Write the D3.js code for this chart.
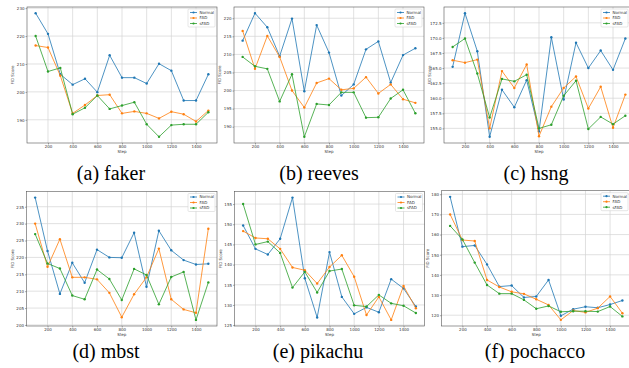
<!DOCTYPE html>
<html>
<head>
<meta charset="utf-8">
<script src="https://cdn.jsdelivr.net/npm/d3@7/dist/d3.min.js"></script>
<style>
	body { margin: 0; background: #fff; }
	svg { display: block; }
	.tick text { font-family: "DejaVu Sans", sans-serif; fill: #333; }
	.caption { font-family: "Liberation Serif", "Times New Roman", serif; font-size: 20px; fill: #000; }
	.small { font-family: "DejaVu Sans", sans-serif; font-size: 4px; fill: #333; }
</style>
</head>
<body>
<svg id="chart" width="629" height="368"></svg>
<script>

// training steps (x) shared by every panel
var steps = [100, 200, 300, 400, 500, 600, 700, 800, 900, 1000, 1100, 1200, 1300, 1400, 1500];
var stepTicks = [200, 400, 600, 800, 1000, 1200, 1400];
var seriesNames = ["Normal", "FAD", "sFAD"];
var seriesColors = ["#1f77b4", "#ff7f0e", "#2ca02c"];

// (a) faker
var fakerNormal = [228.2, 220.8, 206.3, 202.6, 204.7, 199.9, 213.1, 205.1, 205.1, 203.0, 210.1, 207.6, 196.9, 196.9, 206.3];
var fakerFAD    = [216.6, 215.9, 205.8, 192.3, 195.3, 198.7, 199.0, 192.3, 193.0, 192.3, 190.5, 192.9, 192.0, 189.4, 193.3];
var fakerSFAD   = [220.0, 207.3, 208.6, 192.0, 194.3, 198.7, 193.9, 195.1, 196.3, 188.4, 183.9, 188.1, 188.4, 188.4, 192.7];
var fakerTicks  = [190, 200, 210, 220, 230];

// (b) reeves
var reevesNormal = [213.8, 221.4, 217.5, 209.5, 219.9, 199.8, 218.1, 210.5, 198.6, 201.7, 211.4, 213.6, 202.2, 209.8, 211.7];
var reevesFAD    = [216.5, 206.0, 215.1, 209.3, 200.0, 195.3, 202.1, 203.3, 200.2, 200.6, 203.7, 199.2, 201.7, 197.6, 196.6];
var reevesSFAD   = [209.3, 206.7, 206.0, 197.0, 204.5, 187.2, 196.3, 196.0, 199.5, 199.5, 192.5, 192.6, 197.8, 200.2, 193.7];
var reevesTicks  = [190, 195, 200, 205, 210, 215, 220];

// (c) hsng
var hsngNormal = [165.2, 174.1, 167.8, 153.6, 161.4, 158.5, 163.0, 154.5, 170.1, 159.8, 169.2, 165.0, 167.9, 164.7, 169.9];
var hsngFAD    = [166.3, 165.9, 166.4, 155.0, 164.5, 161.7, 165.6, 153.7, 158.6, 161.7, 163.6, 158.3, 161.9, 155.1, 160.6];
var hsngSFAD   = [168.5, 169.9, 164.1, 156.8, 163.2, 162.8, 163.9, 155.0, 155.6, 160.4, 162.9, 154.9, 156.9, 155.7, 157.1];
var hsngTicks  = [155.0, 157.5, 160.0, 162.5, 165.0, 167.5, 170.0, 172.5];

// (d) mbst
var mbstNormal = [237.7, 221.9, 209.2, 218.4, 212.5, 222.3, 220.0, 219.9, 227.3, 211.3, 227.9, 222.1, 219.2, 217.9, 218.1];
var mbstFAD    = [230.0, 217.2, 225.4, 214.1, 214.1, 213.5, 209.5, 202.3, 209.1, 214.1, 222.6, 207.6, 204.6, 203.6, 228.5];
var mbstSFAD   = [226.9, 218.2, 216.7, 208.7, 207.6, 216.4, 213.6, 207.4, 216.6, 214.8, 206.1, 214.2, 215.7, 201.5, 212.6];
var mbstTicks  = [200, 205, 210, 215, 220, 225, 230, 235];

// (e) pikachu
var pikachuNormal = [149.7, 143.9, 142.5, 146.4, 156.6, 136.6, 126.9, 143.1, 132.0, 127.8, 129.4, 128.2, 136.4, 134.1, 129.6];
var pikachuFAD    = [148.3, 146.6, 146.4, 143.9, 139.3, 138.6, 135.3, 139.4, 142.3, 137.0, 127.5, 132.0, 126.3, 134.7, 129.2];
var pikachuSFAD   = [155.0, 145.0, 145.7, 142.9, 134.3, 138.2, 133.1, 138.4, 138.9, 129.9, 129.6, 132.5, 130.4, 129.8, 128.0];
var pikachuTicks  = [125, 130, 135, 140, 145, 150, 155];

// (f) pochacco
var pochaccoNormal = [178.7, 154.0, 154.6, 145.2, 134.2, 134.7, 128.8, 129.3, 137.5, 119.7, 123.0, 124.2, 123.7, 125.3, 127.3];
var pochaccoFAD    = [170.0, 157.3, 156.8, 137.5, 134.0, 131.6, 130.6, 127.9, 125.1, 117.7, 122.3, 121.4, 123.5, 129.3, 121.0];
var pochaccoSFAD   = [164.3, 157.6, 146.1, 135.0, 130.7, 130.7, 127.6, 123.2, 124.6, 121.7, 122.0, 122.0, 121.8, 124.3, 119.4];
var pochaccoTicks  = [120, 130, 140, 150, 160, 170, 180];

var captions = ["(a) faker", "(b) reeves", "(c) hsng", "(d) mbst", "(e) pikachu", "(f) pochacco"];

var panels = [
	{ series: [fakerNormal, fakerFAD, fakerSFAD], yTicks: fakerTicks, fmt: "d" },
	{ series: [reevesNormal, reevesFAD, reevesSFAD], yTicks: reevesTicks, fmt: "d" },
	{ series: [hsngNormal, hsngFAD, hsngSFAD], yTicks: hsngTicks, fmt: ".1f" },
	{ series: [mbstNormal, mbstFAD, mbstSFAD], yTicks: mbstTicks, fmt: "d" },
	{ series: [pikachuNormal, pikachuFAD, pikachuSFAD], yTicks: pikachuTicks, fmt: "d" },
	{ series: [pochaccoNormal, pochaccoFAD, pochaccoSFAD], yTicks: pochaccoTicks, fmt: "d" }
];

// axes frames, in page pixels (each panel was a separate figure scaled down)
// cx/cy = caption centre and baseline
var boxes = [
	{ x0: 27,    x1: 217,   y0: 7,     y1: 143, cx: 111, cy: 180 },
	{ x0: 234,   x1: 424,   y0: 7,     y1: 143, cx: 319, cy: 180 },
	{ x0: 444,   x1: 634,   y0: 7,     y1: 143, cx: 536, cy: 180 },
	{ x0: 26.5,  x1: 217,   y0: 191.5, y1: 326, cx: 106, cy: 358 },
	{ x0: 234.5, x1: 424.5, y0: 191.5, y1: 326, cx: 318, cy: 358 },
	{ x0: 441.5, x1: 631,   y0: 190.7, y1: 326, cx: 535, cy: 358 }
];

var svg = d3.select("#chart");

// matplotlib style 5% margins
function padExtent(vals) {
	var ext = d3.extent(vals);
	var pad = (ext[1] - ext[0]) * 0.05;
	return [ext[0] - pad, ext[1] + pad];
}

function drawPanel(p, box, i) {

	var g = svg.append("g").attr("class", "panel_" + i);

	var x = d3.scaleLinear().domain(padExtent(steps)).range([box.x0, box.x1]);
	var y = d3.scaleLinear().domain(padExtent(d3.merge(p.series))).range([box.y1, box.y0]);

	// grid
	g.append("g").selectAll("line")
		.data(stepTicks)
	  .enter().append("line")
		.attr("x1", function(d){ return x(d) }).attr("x2", function(d){ return x(d) })
		.attr("y1", box.y0).attr("y2", box.y1)
		.attr("stroke", "#d4d4d4").attr("stroke-width", 0.7);

	g.append("g").selectAll("line")
		.data(p.yTicks)
	  .enter().append("line")
		.attr("x1", box.x0).attr("x2", box.x1)
		.attr("y1", function(d){ return y(d) }).attr("y2", function(d){ return y(d) })
		.attr("stroke", "#d4d4d4").attr("stroke-width", 0.7);

	// axes
	var xAxis = g.append("g")
		.attr("transform", "translate(0," + box.y1 + ")")
		.call(d3.axisBottom(x).tickValues(stepTicks).tickSize(1.5).tickPadding(1).tickFormat(d3.format("d")));
	var yAxis = g.append("g")
		.attr("transform", "translate(" + box.x0 + ",0)")
		.call(d3.axisLeft(y).tickValues(p.yTicks).tickSize(1.5).tickPadding(1).tickFormat(d3.format(p.fmt)));

	[xAxis, yAxis].forEach(function(a){
		a.select(".domain").remove();
		a.selectAll(".tick line").attr("stroke", "#555").attr("stroke-width", 0.5);
		a.selectAll(".tick text").style("font-size", "4px");
	});

	g.append("rect")
		.attr("x", box.x0).attr("y", box.y0)
		.attr("width", box.x1 - box.x0).attr("height", box.y1 - box.y0)
		.attr("fill", "none").attr("stroke", "#555").attr("stroke-width", 0.6);

	// axis titles
	g.append("text").attr("class", "small")
		.attr("x", (box.x0 + box.x1) / 2).attr("y", box.y1 + 10)
		.attr("text-anchor", "middle")
		.text("Step");
	g.append("text").attr("class", "small")
		.attr("transform", "translate(" + (box.x0 - 13) + "," + ((box.y0 + box.y1) / 2) + ") rotate(-90)")
		.attr("text-anchor", "middle")
		.text("FID Score");

	// series
	var line = d3.line()
		.x(function(d, j){ return x(steps[j]) })
		.y(function(d){ return y(d) });

	p.series.forEach(function(vals, s){
		g.append("path")
			.datum(vals)
			.attr("d", line)
			.attr("fill", "none")
			.attr("stroke", seriesColors[s])
			.attr("stroke-width", 0.8);
		g.append("g").selectAll("circle")
			.data(vals)
		  .enter().append("circle")
			.attr("cx", function(d, j){ return x(steps[j]) })
			.attr("cy", function(d){ return y(d) })
			.attr("r", 1.2)
			.attr("fill", seriesColors[s]);
	});

	// legend, upper right (the right panel's legend runs off the page, as in the source)
	var lw = 27, lh = 18;
	var lx = Math.min(box.x1 - lw - 2, 629 - lw - 1);
	var legend = g.append("g")
		.attr("transform", "translate(" + lx + "," + (box.y0 + 2) + ")");
	legend.append("rect")
		.attr("width", lw).attr("height", lh).attr("rx", 1)
		.attr("fill", "#fff").attr("fill-opacity", 0.85)
		.attr("stroke", "#ccc").attr("stroke-width", 0.5);
	var item = legend.selectAll(".item")
		.data(seriesNames)
	  .enter().append("g")
		.attr("transform", function(d, k){ return "translate(0," + (3.5 + k * 5.5) + ")" });
	item.append("line")
		.attr("x1", 2).attr("x2", 9)
		.attr("stroke", function(d, k){ return seriesColors[k] })
		.attr("stroke-width", 0.8);
	item.append("circle")
		.attr("cx", 5.5).attr("r", 1.1)
		.attr("fill", function(d, k){ return seriesColors[k] });
	item.append("text").attr("class", "small")
		.attr("x", 11.5).attr("dy", "0.35em")
		.text(function(d){ return d });

	// caption under the panel
	svg.append("text").attr("class", "caption")
		.attr("x", box.cx)
		.attr("y", box.cy)
		.attr("text-anchor", "middle")
		.text(captions[i]);
}

panels.forEach(function(p, i){ drawPanel(p, boxes[i], i) });

</script>
</body>
</html>
